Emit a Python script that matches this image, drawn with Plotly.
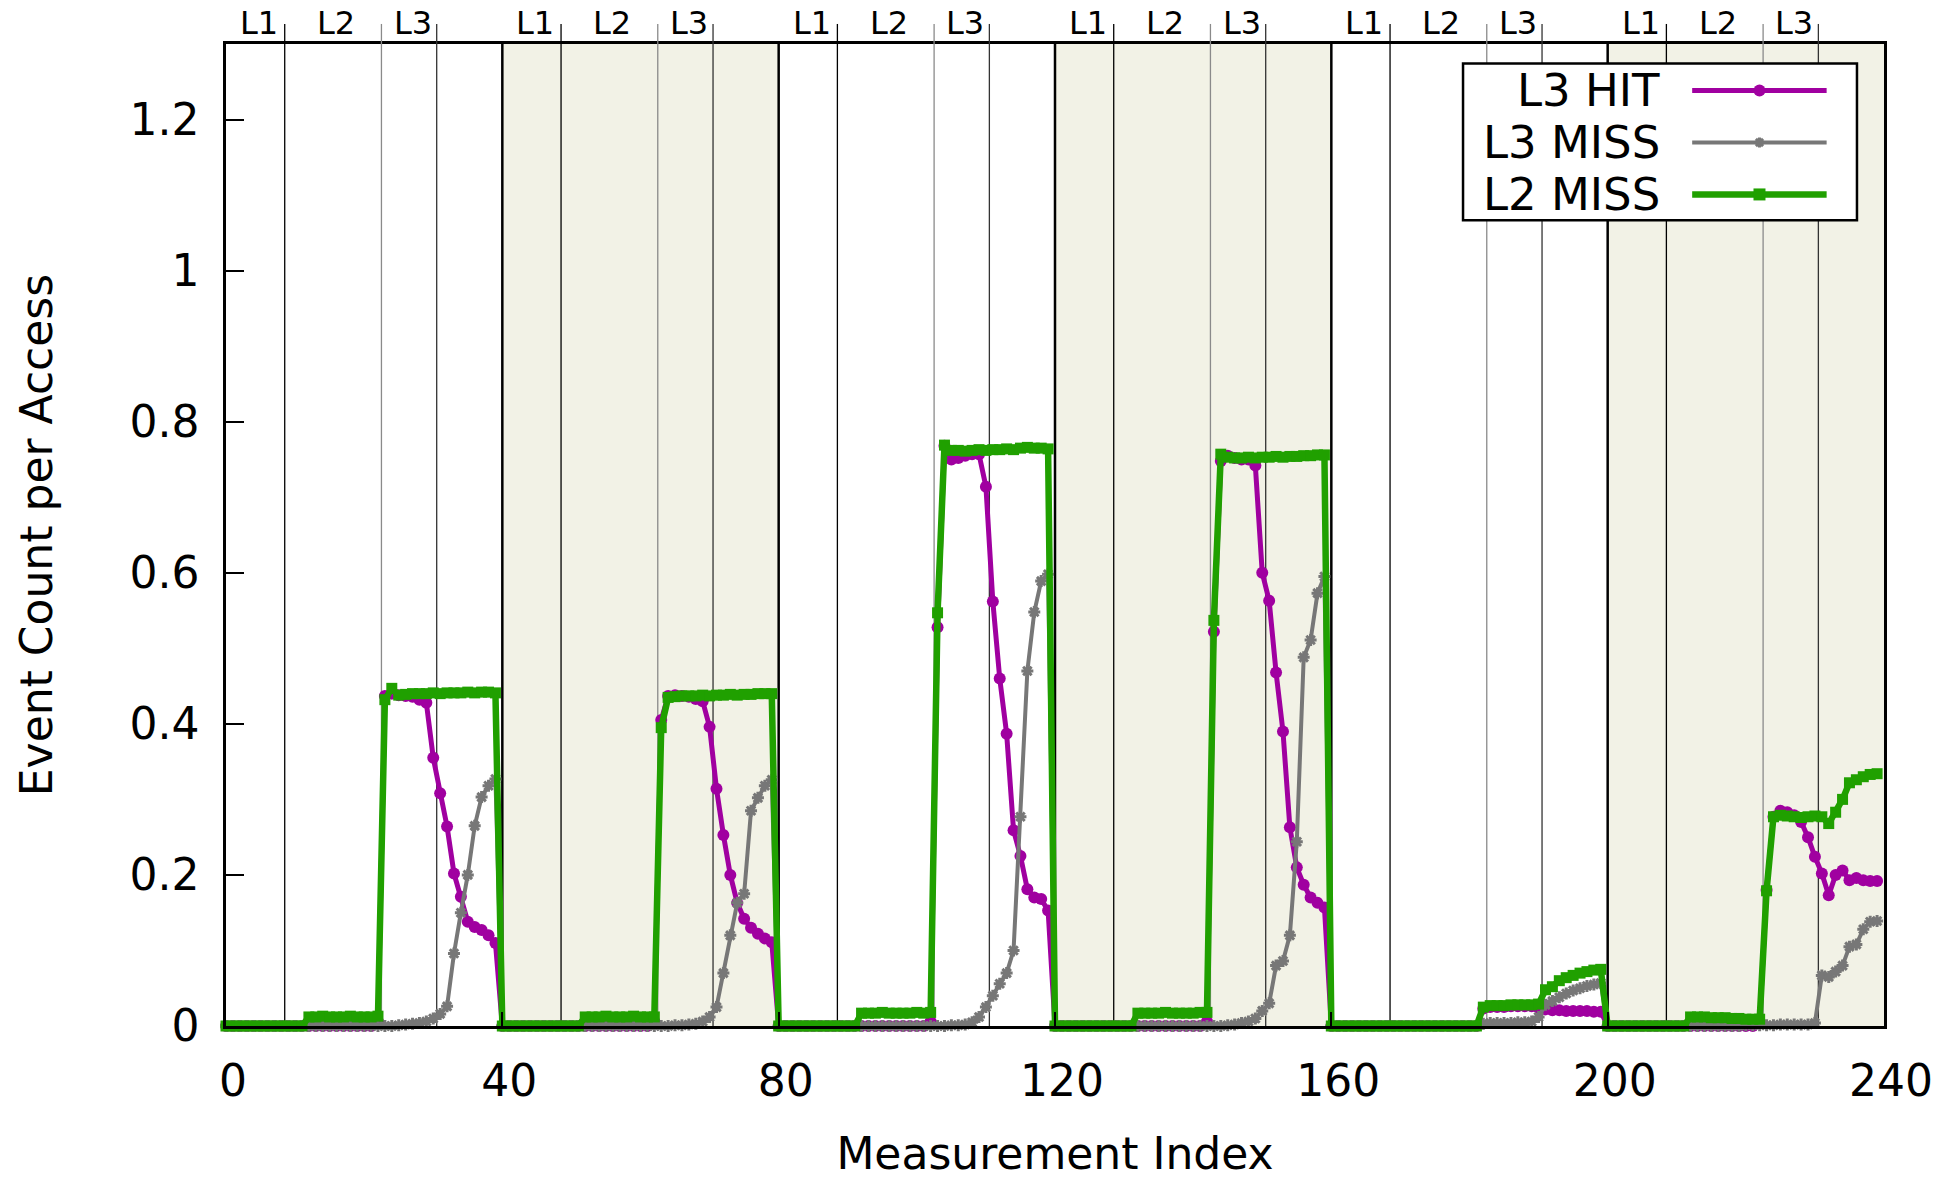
import plotly.graph_objects as go

# ---------------- data ----------------
measurement_index = list(range(240))

l3_hit = [
    # block 0-39
    0, 0, 0, 0, 0, 0, 0, 0, 0, 0, 0, 0, 0, 0, 0, 0, 0, 0, 0, 0, 0, 0, 0.006,
    0.437, 0.440, 0.438, 0.437, 0.436, 0.432, 0.428, 0.355, 0.308, 0.264, 0.202, 0.171, 0.138, 0.131, 0.127, 0.120, 0.110,
    # block 40-79
    0, 0, 0, 0, 0, 0, 0, 0, 0, 0, 0, 0, 0, 0, 0, 0, 0, 0, 0, 0, 0, 0, 0.006,
    0.405, 0.437, 0.438, 0.437, 0.436, 0.433, 0.430, 0.396, 0.314, 0.253, 0.200, 0.163, 0.142, 0.130, 0.122, 0.116, 0.111,
    # block 80-119
    0, 0, 0, 0, 0, 0, 0, 0, 0, 0, 0, 0, 0, 0, 0, 0, 0, 0, 0, 0, 0, 0, 0.006,
    0.528, 0.768, 0.750, 0.752, 0.755, 0.757, 0.757, 0.714, 0.562, 0.460, 0.387, 0.259, 0.225, 0.181, 0.170, 0.168, 0.153,
    # block 120-159
    0, 0, 0, 0, 0, 0, 0, 0, 0, 0, 0, 0, 0, 0, 0, 0, 0, 0, 0, 0, 0, 0, 0.006,
    0.522, 0.748, 0.755, 0.752, 0.750, 0.750, 0.742, 0.600, 0.563, 0.468, 0.390, 0.263, 0.210, 0.187, 0.170, 0.163, 0.157,
    # block 160-199
    0, 0, 0, 0, 0, 0, 0, 0, 0, 0, 0, 0, 0, 0, 0, 0, 0, 0, 0, 0, 0, 0,
    0.023, 0.025, 0.025, 0.025, 0.026, 0.026, 0.026, 0.026, 0.024,
    0.022, 0.021, 0.021, 0.020, 0.020, 0.020, 0.020, 0.019, 0.019,
    # block 200-239
    0, 0, 0, 0, 0, 0, 0, 0, 0, 0, 0, 0, 0, 0, 0, 0, 0, 0, 0, 0, 0, 0, 0.005,
    0.180, 0.277, 0.285, 0.283, 0.279, 0.270, 0.250, 0.224, 0.202, 0.173, 0.200, 0.206, 0.193, 0.196, 0.193, 0.192, 0.192,
]

l3_miss = [
    # block 0-39
    0, 0, 0, 0, 0, 0, 0, 0, 0, 0, 0, 0, 0, 0, 0, 0, 0, 0, 0, 0, 0, 0, 0, 0, 0,
    0.001, 0.002, 0.003, 0.004, 0.006, 0.010, 0.016, 0.026, 0.096, 0.150, 0.200, 0.265, 0.303, 0.318, 0.327,
    # block 40-79
    0, 0, 0, 0, 0, 0, 0, 0, 0, 0, 0, 0, 0, 0, 0, 0, 0, 0, 0, 0, 0, 0, 0, 0, 0,
    0.001, 0.001, 0.002, 0.003, 0.006, 0.012, 0.025, 0.070, 0.120, 0.163, 0.175, 0.285, 0.302, 0.318, 0.326,
    # block 80-119
    0, 0, 0, 0, 0, 0, 0, 0, 0, 0, 0, 0, 0, 0, 0, 0, 0, 0, 0, 0, 0, 0, 0, 0, 0,
    0.001, 0.001, 0.002, 0.005, 0.012, 0.025, 0.040, 0.056, 0.070, 0.100, 0.277, 0.470, 0.548, 0.589, 0.598,
    # block 120-159
    0, 0, 0, 0, 0, 0, 0, 0, 0, 0, 0, 0, 0, 0, 0, 0, 0, 0, 0, 0, 0, 0, 0, 0, 0,
    0.001, 0.002, 0.004, 0.006, 0.010, 0.020, 0.030, 0.080, 0.086, 0.120, 0.244, 0.488, 0.511, 0.573, 0.595,
    # block 160-199
    0, 0, 0, 0, 0, 0, 0, 0, 0, 0, 0, 0, 0, 0, 0, 0, 0, 0, 0, 0, 0, 0,
    0.003, 0.004, 0.004, 0.004, 0.004, 0.005, 0.005, 0.006, 0.012,
    0.028, 0.033, 0.038, 0.043, 0.047, 0.050, 0.053, 0.055, 0.057,
    # block 200-239
    0, 0, 0, 0, 0, 0, 0, 0, 0, 0, 0, 0, 0, 0, 0, 0, 0, 0, 0, 0,
    0.001, 0.001, 0.001, 0.001, 0.001, 0.002, 0.002, 0.002, 0.002, 0.002,
    0.004, 0.067, 0.065, 0.072, 0.080, 0.105, 0.108, 0.128, 0.138, 0.139,
]

l2_miss = [
    # block 0-39
    0, 0, 0, 0, 0, 0, 0, 0, 0, 0, 0, 0,
    0.012, 0.012, 0.013, 0.012, 0.012, 0.012, 0.013, 0.012, 0.012, 0.012, 0.013,
    0.432, 0.447, 0.438, 0.439, 0.440, 0.440, 0.440, 0.441, 0.440, 0.441, 0.441, 0.441, 0.442, 0.441, 0.442, 0.442, 0.441,
    # block 40-79
    0, 0, 0, 0, 0, 0, 0, 0, 0, 0, 0, 0,
    0.012, 0.012, 0.012, 0.013, 0.012, 0.012, 0.012, 0.013, 0.012, 0.012, 0.012,
    0.395, 0.435, 0.436, 0.437, 0.437, 0.437, 0.438, 0.437, 0.438, 0.438, 0.439, 0.438, 0.439, 0.439, 0.440, 0.440, 0.440,
    # block 80-119
    0, 0, 0, 0, 0, 0, 0, 0, 0, 0, 0, 0,
    0.017, 0.017, 0.017, 0.018, 0.017, 0.017, 0.017, 0.017, 0.018, 0.017, 0.018,
    0.547, 0.769, 0.762, 0.762, 0.761, 0.762, 0.763, 0.762, 0.763, 0.763, 0.764, 0.763, 0.765, 0.766, 0.765, 0.765, 0.764,
    # block 120-159
    0, 0, 0, 0, 0, 0, 0, 0, 0, 0, 0, 0,
    0.017, 0.017, 0.017, 0.017, 0.018, 0.017, 0.017, 0.017, 0.017, 0.018, 0.018,
    0.537, 0.757, 0.753, 0.752, 0.752, 0.753, 0.752, 0.753, 0.753, 0.754, 0.753, 0.754, 0.754, 0.755, 0.755, 0.756, 0.756,
    # block 160-199
    0, 0, 0, 0, 0, 0, 0, 0, 0, 0, 0, 0, 0, 0, 0, 0, 0, 0, 0, 0, 0, 0,
    0.025, 0.027, 0.027, 0.027, 0.028, 0.028, 0.028, 0.028, 0.029,
    0.048, 0.052, 0.060, 0.064, 0.067, 0.070, 0.072, 0.074, 0.075,
    # block 200-239
    0, 0, 0, 0, 0, 0, 0, 0, 0, 0, 0, 0,
    0.012, 0.012, 0.012, 0.011, 0.011, 0.011, 0.010, 0.010, 0.009, 0.009, 0.009,
    0.179, 0.277, 0.279, 0.278, 0.277, 0.276, 0.277, 0.278, 0.277, 0.268, 0.283, 0.300, 0.322, 0.326, 0.330, 0.333, 0.334,
]

series_names = ["L3 HIT", "L3 MISS", "L2 MISS"]

# experiment blocks, shaded blocks and cache-level boundaries inside each block
block_starts = [0, 40, 80, 120, 160, 200]
block_width = 40
shaded_blocks = [40, 120, 200]
level_names = ["L1", "L2", "L3"]
level_bounds = [8.5, 22.5, 30.5]        # boundary offsets within each block
level_label_pos = [4.8, 15.9, 27.0]     # label offsets within each block

x_ticks = [0, 40, 80, 120, 160, 200, 240]
y_ticks = [0, 0.2, 0.4, 0.6, 0.8, 1.0, 1.2]
y_tick_text = ["0", "0.2", "0.4", "0.6", "0.8", "1", "1.2"]

# ---------------- styling ----------------
FONT = "DejaVu Sans"
C_HIT = "#a000a0"
C_MISS3 = "#777777"
C_MISS2 = "#20a000"
SHADE = "#f2f2e6"
level_line_colors = ["#000000", "#8a8a8a", "#333333"]

fig = go.Figure()

fig.add_trace(go.Scatter(
    x=measurement_index, y=l3_hit, name=series_names[0], mode="lines+markers",
    line=dict(color=C_HIT, width=5),
    marker=dict(symbol="circle", size=12, color=C_HIT),
    cliponaxis=False, showlegend=False))
fig.add_trace(go.Scatter(
    x=measurement_index, y=l3_miss, name=series_names[1], mode="lines+markers",
    line=dict(color=C_MISS3, width=4),
    marker=dict(symbol="asterisk-open", size=10, color=C_MISS3,
                line=dict(color=C_MISS3, width=3)),
    cliponaxis=False, showlegend=False))
fig.add_trace(go.Scatter(
    x=measurement_index, y=l2_miss, name=series_names[2], mode="lines+markers",
    line=dict(color=C_MISS2, width=6.5),
    marker=dict(symbol="square", size=11, color=C_MISS2),
    cliponaxis=False, showlegend=False))

shapes = []
# shaded blocks
for s in shaded_blocks:
    shapes.append(dict(type="rect", xref="x", yref="paper", x0=s, x1=s + block_width,
                       y0=0, y1=1, fillcolor=SHADE, line=dict(width=0), layer="below"))
# block boundaries
for s in block_starts[1:]:
    shapes.append(dict(type="line", xref="x", yref="paper", x0=s, x1=s, y0=0, y1=1,
                       line=dict(color="black", width=2.5), layer="below"))
# cache level boundaries + small marks above the frame
annotations = []
for s in block_starts:
    for bound, col in zip(level_bounds, level_line_colors):
        shapes.append(dict(type="line", xref="x", yref="paper", x0=s + bound, x1=s + bound,
                           y0=0, y1=1, line=dict(color=col, width=1.3), layer="below"))
        shapes.append(dict(type="line", xref="x", yref="paper", x0=s + bound, x1=s + bound,
                           y0=1, y1=1.0204, line=dict(color=col, width=1.3), layer="above"))
    for name, pos in zip(level_names, level_label_pos):
        annotations.append(dict(x=s + pos, y=1.0215, xref="x", yref="paper", text=name,
                                showarrow=False, xanchor="center", yanchor="middle",
                                font=dict(family=FONT, size=32, color="black")))

# ---------------- legend (text left, sample right, like the original) ----------------
box_x0, box_x1, box_y0, box_y1 = 0.7461, 0.9837, 0.8204, 0.9802
row_y = [0.9527, 0.8997, 0.8468]
text_right = 0.8661
samp_x0, samp_x1, samp_mid = 0.8843, 0.9654, 0.9249
shapes.append(dict(type="rect", xref="paper", yref="paper", x0=box_x0, x1=box_x1,
                   y0=box_y0, y1=box_y1, fillcolor="white",
                   line=dict(color="black", width=2.5), layer="above"))
legend_colors = [C_HIT, C_MISS3, C_MISS2]
legend_widths = [5, 4, 6.5]
for name, yy, col, w in zip(series_names, row_y, legend_colors, legend_widths):
    annotations.append(dict(x=text_right, y=yy, xref="paper", yref="paper", text=name,
                            showarrow=False, xanchor="right", yanchor="middle",
                            font=dict(family=FONT, size=45, color="black")))
    shapes.append(dict(type="line", xref="paper", yref="paper", x0=samp_x0, x1=samp_x1,
                       y0=yy, y1=yy, line=dict(color=col, width=w), layer="above"))
# sample markers (pixel sized)
shapes.append(dict(type="circle", xref="paper", yref="paper", xsizemode="pixel", ysizemode="pixel",
                   xanchor=samp_mid, yanchor=row_y[0], x0=-6, x1=6, y0=-6, y1=6,
                   fillcolor=C_HIT, line=dict(color=C_HIT, width=0), layer="above"))
shapes.append(dict(type="path", xref="paper", yref="paper", xsizemode="pixel", ysizemode="pixel",
                   xanchor=samp_mid, yanchor=row_y[1],
                   path="M-5,0 L5,0 M0,-5 L0,5 M-3.6,-3.6 L3.6,3.6 M-3.6,3.6 L3.6,-3.6",
                   line=dict(color=C_MISS3, width=3), layer="above"))
shapes.append(dict(type="rect", xref="paper", yref="paper", xsizemode="pixel", ysizemode="pixel",
                   xanchor=samp_mid, yanchor=row_y[2], x0=-6, x1=6, y0=-6, y1=6,
                   fillcolor=C_MISS2, line=dict(color=C_MISS2, width=0), layer="above"))

fig.update_layout(
    width=1952, height=1179, autosize=False,
    margin=dict(l=226, r=68, t=44, b=153, pad=0),
    paper_bgcolor="white", plot_bgcolor="white",
    font=dict(family=FONT, size=44, color="black"),
    shapes=shapes, annotations=annotations,
    showlegend=False,
)
fig.update_xaxes(
    range=[0, 240], tickvals=x_ticks, ticktext=[str(v) for v in x_ticks],
    automargin=False,
    showgrid=False, zeroline=False, showline=True, linecolor="black", linewidth=2.5, mirror=True,
    ticks="inside", ticklen=14, tickwidth=1.5, tickcolor="black",
    tickfont=dict(family=FONT, size=44), ticklabelstandoff=14, ticklabelshift=7,
    title=dict(text="Measurement Index", font=dict(family=FONT, size=44), standoff=47),
)
fig.update_yaxes(
    range=[0, 1.3], tickvals=y_ticks, ticktext=y_tick_text,
    automargin=False,
    showgrid=False, zeroline=False, showline=True, linecolor="black", linewidth=2.5, mirror=True,
    ticks="inside", ticklen=18, tickwidth=1.5, tickcolor="black",
    tickfont=dict(family=FONT, size=44), ticklabelstandoff=15,
    title=dict(text="Event Count per Access", font=dict(family=FONT, size=44), standoff=64),
)

fig.write_html("out.html")
